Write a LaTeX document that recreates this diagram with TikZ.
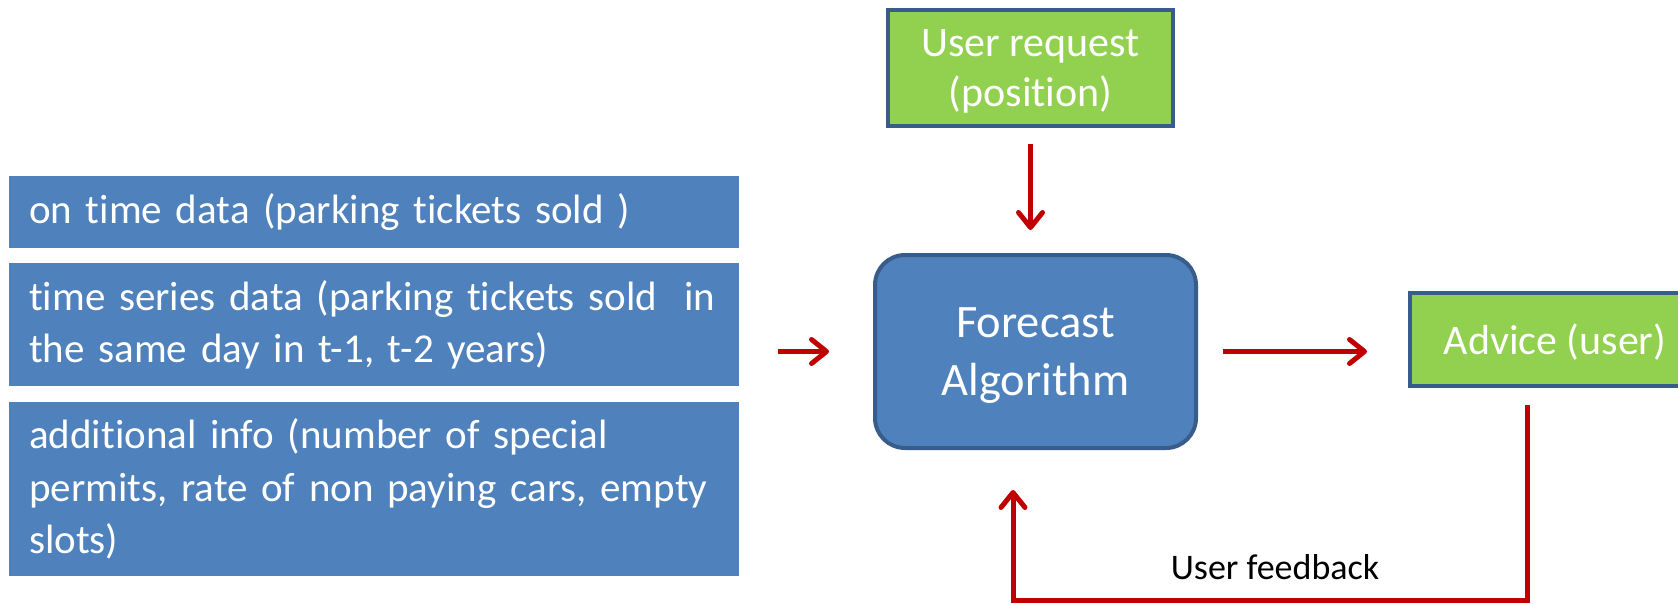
\documentclass[tikz,border=0pt]{standalone}
\usepackage{fontspec}
\setmainfont{Carlito}[Ligatures=NoCommon]
\usetikzlibrary{arrows.meta,calc}
\definecolor{boxblue}{HTML}{4F81BD}
\definecolor{edgeblue}{HTML}{385D8A}
\definecolor{leafgreen}{HTML}{92D050}
\definecolor{arrowred}{HTML}{C00000}

\begin{document}
\begin{tikzpicture}[x=1pt,y=-1pt,
  datafield/.style={fill=boxblue, text=white, anchor=north west, align=left,
    text width=690pt, inner xsep=20pt, inner ysep=0pt,
    font=\fontsize{41}{52.5}\selectfont},
  greenbox/.style={fill=leafgreen, draw=edgeblue, line width=4pt, text=white,
    align=center, inner sep=0pt, text depth=0pt,
    font=\fontsize{42}{50}\selectfont},
  algobox/.style={fill=boxblue, draw=edgeblue, line width=4pt, text=white,
    rounded corners=30pt, align=center, inner sep=0pt, text depth=0pt,
    minimum width=321pt, minimum height=193pt,
    font=\fontsize{46.5}{58}\selectfont},
  flow/.style={draw=arrowred, line width=5pt,
    -{Straight Barb[length=15pt, width=24pt, round]}},
  note/.style={text=black, inner sep=0pt, font=\fontsize{36}{40}\selectfont}
]
\useasboundingbox (0,0) rectangle (1678,604);
\clip (0,0) rectangle (1678,604);

% input data
\node[datafield, minimum height=72pt] (b1) at (9,176)
  {on time data (parking tickets sold )};
\node[datafield, minimum height=123pt] (b2) at (9,263)
  {\mbox{time series data (parking tickets sold \ in}\\the same day in t-1, t-2 years)};
\node[datafield, minimum height=174pt] (b3) at (9,402)
  {additional info (number of special\\\mbox{permits, rate of non paying cars, empty}\\slots)};

% processing and user side
\node[algobox] (fc) at (1035.5,351.5) {Forecast\\Algorithm};
\node[greenbox, minimum width=285pt, minimum height=116pt] (req) at (1030.5,68)
  {User request\\(position)};
\node[greenbox, minimum width=290pt, minimum height=93pt] (adv) at (1555,339.5)
  {Advice (user)};

% connectors
\draw[flow] ([xshift=39pt]b2.east |- fc.center) -- ([xshift=-44pt]fc.west);
\draw[flow, shorten <=16pt, shorten >=23pt] (req.south) -- (req.south |- fc.north);
\draw[flow, shorten <=25pt, shorten >=41pt] (fc.east) -- (fc.east -| adv.west);

% feedback loop
\coordinate (fbstart) at (1527,405);
\coordinate (fbcorner) at (1013,600);
\coordinate (fbend) at (1013,490);
\draw[flow, line join=miter] (fbstart) |- (fbcorner) -- (fbend);
\node[note] (fblabel) at (1275,567) {User feedback};
\end{tikzpicture}
\end{document}
